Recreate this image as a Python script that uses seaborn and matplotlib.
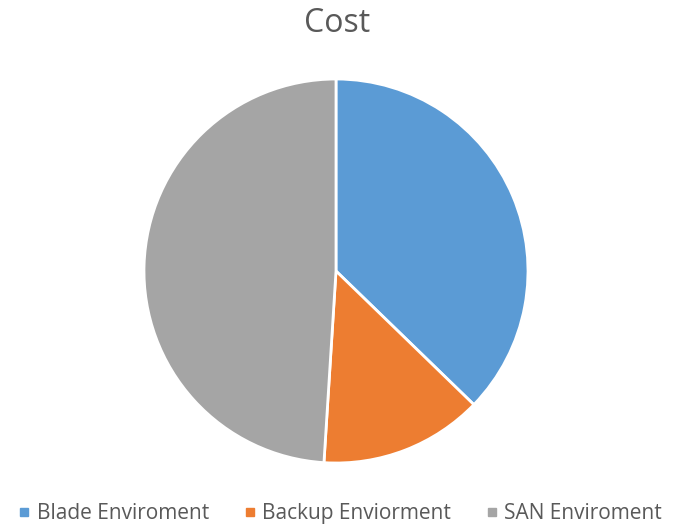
import seaborn as sns
import matplotlib.pyplot as plt
from matplotlib.lines import Line2D

labels = ["Blade Enviroment", "Backup Enviorment", "SAN Enviroment"]
values = [37.25, 13.75, 49.0]
colors = ["#5B9BD5", "#ED7D31", "#A5A5A5"]

sns.set_theme(style="white")
plt.rcParams['font.family'] = ['Open Sans', 'DejaVu Sans']

fig = plt.figure(figsize=(6.85, 5.27), dpi=100)
ax = fig.add_axes([0.2102, 0.1214, 0.5606, 0.7287])

ax.pie(values, colors=colors, startangle=90, counterclock=False,
       wedgeprops=dict(edgecolor="white", linewidth=2))
ax.set_xlim(-1, 1)
ax.set_ylim(-1, 1)
ax.set_aspect("equal")

fig.text(0.492, 0.955, "Cost", ha="center", va="center", fontsize=23, color="#595959")

handles = [Line2D([0], [0], marker="s", linestyle="none", markersize=6,
                  markerfacecolor=c, markeredgecolor=c) for c in colors]
fig.legend(handles, labels, loc="lower center", ncol=3, frameon=False,
           bbox_to_anchor=(0.497, -0.03), fontsize=15, labelcolor="#595959",
           handlelength=0.5, handletextpad=0.35, columnspacing=1.7)

fig.savefig("out.png", dpi=100)
